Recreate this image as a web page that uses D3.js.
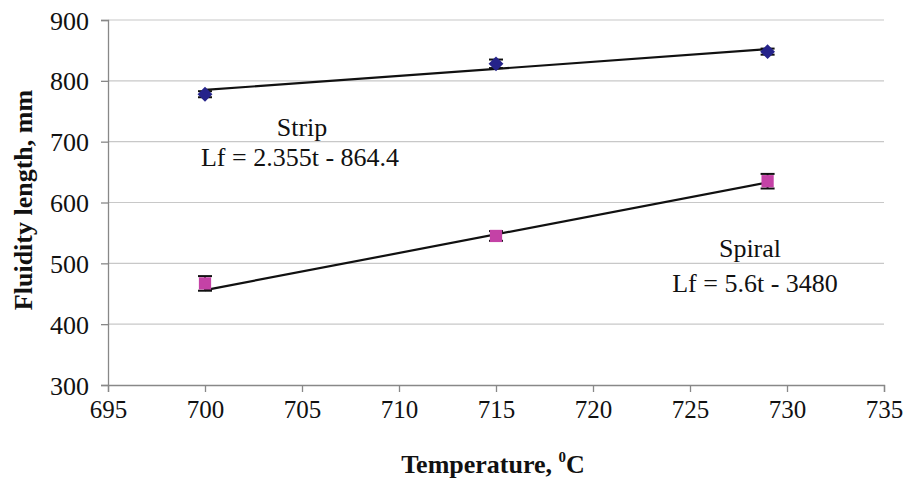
<!DOCTYPE html>
<html>
<head>
<meta charset="utf-8">
<script src="https://cdn.jsdelivr.net/npm/d3@7"></script>
<style>
    body { margin: 0; background: #fff; }
    svg text { font-family: 'Liberation Serif', 'DejaVu Serif', serif; fill: #111; }
</style>
</head>
<body>
<script>
// data
var temps = [700, 715, 729];
var stripValues = [778, 828, 848];
var stripErrors = [5, 7, 5];
var spiralValues = [467, 545, 635];
var spiralErrors = [12, 8, 12];
// fitted lines, end values at 700 and 729
var trendTemps = [700, 729];
var stripTrend = [785, 852];
var spiralTrend = [456, 633];
var xTicks = [695, 700, 705, 710, 715, 720, 725, 730, 735];
var yTicks = [300, 400, 500, 600, 700, 800, 900];

var width = 905, height = 486;
var margin = {left: 108, right: 21, top: 20, bottom: 101};
var serif = "'Liberation Serif', 'DejaVu Serif', serif";

var svg = d3.select('body').append('svg')
    .attr('width', width)
    .attr('height', height);

var x = d3.scaleLinear().domain([695, 735]).range([margin.left, width - margin.right]);
var y = d3.scaleLinear().domain([300, 900]).range([height - margin.bottom, margin.top]);

// gridlines
svg.append('g').selectAll('line')
    .data(yTicks.slice(1))
    .enter().append('line')
    .attr('x1', x(695)).attr('x2', x(735))
    .attr('y1', function(d) { return y(d); })
    .attr('y2', function(d) { return y(d); })
    .attr('stroke', '#c8c8c8')
    .attr('stroke-width', 1.2);

// axes
var xAxis = svg.append('g')
    .attr('transform', 'translate(0,' + y(300) + ')')
    .call(d3.axisBottom(x).tickValues(xTicks).tickSize(7).tickPadding(8).tickFormat(d3.format('d')));
var yAxis = svg.append('g')
    .attr('transform', 'translate(' + x(695) + ',0)')
    .call(d3.axisLeft(y).tickValues(yTicks).tickSize(7).tickPadding(12).tickFormat(d3.format('d')));

[xAxis, yAxis].forEach(function(a) {
    a.attr('font-family', null);
    a.select('.domain').attr('stroke', '#888').attr('stroke-width', 1.3);
    a.selectAll('.tick line').attr('stroke', '#888').attr('stroke-width', 1.3);
    a.selectAll('.tick text')
        .style('font-family', serif)
        .style('font-size', '26px')
        .attr('fill', '#111');
});
xAxis.selectAll('.tick text').style('font-size', '25px');
yAxis.selectAll('.tick text').attr('dy', '0.35em');

// axis titles
svg.append('text')
    .attr('x', 493).attr('y', 473)
    .attr('text-anchor', 'middle')
    .style('font-family', serif)
    .style('font-size', '26px')
    .style('font-weight', 'bold')
    .html('Temperature, <tspan font-size="15" dy="-11">0</tspan><tspan dy="11">C</tspan>');

svg.append('text')
    .attr('transform', 'translate(32,200) rotate(-90)')
    .attr('text-anchor', 'middle')
    .style('font-family', serif)
    .style('font-size', '26px')
    .style('font-weight', 'bold')
    .text('Fluidity length, mm');

// trend lines
var line = d3.line()
    .x(function(d) { return x(d[0]); })
    .y(function(d) { return y(d[1]); });

[stripTrend, spiralTrend].forEach(function(t) {
    svg.append('path')
        .attr('d', line(d3.zip(trendTemps, t)))
        .attr('fill', 'none')
        .attr('stroke', '#111')
        .attr('stroke-width', 2.2);
});

function drawSeries(values, errors, color, shape, size, rotate) {
    var pts = d3.zip(temps, values, errors);
    var g = svg.append('g');
    pts.forEach(function(p) {
        var cx = x(p[0]);
        g.append('line')
            .attr('x1', cx).attr('x2', cx)
            .attr('y1', y(p[1] - p[2])).attr('y2', y(p[1] + p[2]))
            .attr('stroke', '#111').attr('stroke-width', 2);
        [p[1] - p[2], p[1] + p[2]].forEach(function(v) {
            g.append('line')
                .attr('x1', cx - 7).attr('x2', cx + 7)
                .attr('y1', y(v)).attr('y2', y(v))
                .attr('stroke', '#111').attr('stroke-width', 2);
        });
    });
    g.selectAll('path.mark')
        .data(pts)
        .enter().append('path')
        .attr('class', 'mark')
        .attr('d', d3.symbol().type(shape).size(size))
        .attr('transform', function(d) {
            return 'translate(' + x(d[0]) + ',' + y(d[1]) + ') rotate(' + rotate + ')';
        })
        .attr('fill', color);
}

drawSeries(stripValues, stripErrors, '#25238a', d3.symbolSquare, 110, 45);
drawSeries(spiralValues, spiralErrors, '#c442a6', d3.symbolSquare, 150, 0);

// equation labels
function label(tx, ty, s) {
    svg.append('text').attr('x', tx).attr('y', ty)
        .attr('text-anchor', 'middle')
        .style('font-family', serif)
        .style('font-size', '26px')
        .text(s);
}
label(302, 136, 'Strip');
label(300, 166, 'Lf = 2.355t - 864.4');
label(750, 257, 'Spiral');
label(755, 292, 'Lf = 5.6t - 3480');
</script>
</body>
</html>
